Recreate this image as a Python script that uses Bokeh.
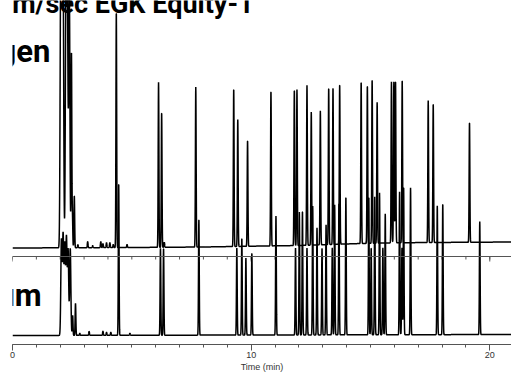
import numpy as np
from bokeh.plotting import figure
from bokeh.models import Range1d, Span, Label, SingleIntervalTicker
from bokeh.embed import file_html
from bokeh.resources import INLINE

# ---------------- data ----------------
# Hydrogen carrier (upper trace): solvent cluster and resolved peaks (time in min, height)
h2_solvent_times = [2.02, 2.07, 2.12, 2.24, 2.30, 2.38]
h2_solvent_heights = [262, 242, 267, 257, 239, 262]
h2_peak_times = [2.47, 2.51, 2.59, 2.74, 3.15, 3.36, 3.70, 3.79, 3.94, 4.08, 4.22,
                 4.35, 4.80, 6.12, 6.25, 6.36, 7.68, 9.27, 9.44, 9.85, 10.83,
                 11.81, 11.92, 12.34, 12.52, 12.90, 13.25, 13.43, 13.71, 14.61,
                 14.87, 15.07, 15.28, 15.88, 15.98, 16.05, 16.33, 17.42, 17.63, 19.15]
h2_peak_heights = [195, 32, 52, 3, 6, 2, 6, 4, 5, 5, 3,
                   236, 3, 165, 135, 5, 160, 158, 127, 106, 155,
                   156, 156, 160, 133, 134, 157, 157, 160, 162,
                   158, 164, 141, 161, 161, 162, 163, 142, 139, 120]
h2_base_times = [0, 5, 8, 10, 12, 13.3, 14.6, 16, 17.5, 21]
h2_base_levels = [87.5, 88, 88.5, 89.3, 90, 91, 92, 92.7, 93, 93.5]

# Helium carrier (lower trace)
he_solvent_times = [2.05, 2.12, 2.19, 2.26, 2.33, 2.42]
he_solvent_heights = [95, 100, 90, 97, 85, 87]
he_peak_times = [2.52, 2.64, 2.82, 3.21, 3.79, 3.94, 4.12, 4.45, 4.92, 6.20, 6.33,
                 7.81, 9.40, 9.61, 9.78, 10.03, 11.04, 11.86, 12.02, 12.15, 12.34,
                 12.58, 12.76, 12.97, 13.14, 13.40, 13.50, 13.68, 13.97, 14.93,
                 15.03, 15.18, 15.38, 15.52, 15.62, 16.22, 16.32, 16.39, 16.68,
                 17.80, 18.03, 19.58]
he_peak_heights = [20, 32, 2, 4, 4, 3, 3, 152, 2, 87, 87,
                   116, 87, 97, 77, 82, 119, 87, 123, 124, 87,
                   129, 107, 87, 110, 87, 130, 131, 138, 138,
                   87, 138, 142, 87, 121, 143, 87, 148, 147,
                   129, 131, 113]
he_base_times = [0, 21]
he_base_levels = [0, 1]

tick_minutes = list(range(0, 21))
major_minutes = [0, 10, 20]

# ---------------- build traces ----------------
t = np.arange(0, 20.95, 0.004)


def peaks(times, heights, sigma):
    s = np.zeros_like(t)
    for tc, h in zip(times, heights):
        s += h * np.exp(-0.5 * ((t - tc) / sigma) ** 2)
    return s


h2 = (np.interp(t, h2_base_times, h2_base_levels)
      + peaks(h2_solvent_times, h2_solvent_heights, 0.025)
      + peaks(h2_peak_times, h2_peak_heights, 0.015))
he = (np.interp(t, he_base_times, he_base_levels)
      + peaks(he_solvent_times, he_solvent_heights, 0.025)
      + peaks(he_peak_times, he_peak_heights, 0.015))

p = figure(width=511, height=374, frame_width=499, frame_height=344,
           x_range=Range1d(0, 20.91), y_range=Range1d(-9, 335),
           output_backend="svg", toolbar_location=None, y_axis_location=None,
           min_border_left=12, min_border_right=0, min_border_top=0, min_border_bottom=0)
p.outline_line_color = None
p.grid.visible = False
p.background_fill_color = "white"

ax = p.xaxis[0]
ax.ticker = SingleIntervalTicker(interval=10, num_minor_ticks=10)
ax.axis_line_color = "#555555"
ax.major_tick_line_color = "#555555"
ax.minor_tick_line_color = "#555555"
ax.major_tick_in = 0
ax.major_tick_out = 6
ax.minor_tick_in = 0
ax.minor_tick_out = 3
ax.major_label_standoff = 1
ax.major_label_text_font = "Liberation Sans"
ax.major_label_text_font_size = "9px"
ax.major_label_text_color = "#333333"
ax.axis_label = "Time (min)"
ax.axis_label_standoff = 1
ax.axis_label_text_font = "Liberation Sans"
ax.axis_label_text_font_size = "9px"
ax.axis_label_text_font_style = "normal"
ax.axis_label_text_color = "#333333"

# middle axis belonging to the upper chromatogram
p.add_layout(Span(location=79, dimension="width", line_color="#555555", line_width=1))
p.segment(x0=tick_minutes, y0=79, x1=tick_minutes, y1=76, line_color="#555555", line_width=1)
p.segment(x0=major_minutes, y0=79, x1=major_minutes, y1=74, line_color="#555555", line_width=1)

p.line(t, he, line_color="black", line_width=1.5)
p.line(t, h2, line_color="black", line_width=1.5)

label_font = "Roboto"
p.add_layout(Label(x=1.59, y=266, text="Hydrogen", text_align="right",
                   text_baseline="bottom",
                   text_font=label_font, text_font_style="bold",
                   text_font_size="31px", text_color="black"))
p.add_layout(Label(x=1.22, y=22, text="Helium", text_align="right",
                   text_baseline="bottom",
                   text_font=label_font, text_font_style="bold",
                   text_font_size="31px", text_color="black"))
p.add_layout(Label(x=10.1, y=316, text="cm/sec EGK Equity-1", text_align="right",
                   text_baseline="bottom",
                   text_font=label_font, text_font_style="bold",
                   text_font_size="27px", text_color="black"))

open("out.html", "w").write(file_html(p, INLINE))
